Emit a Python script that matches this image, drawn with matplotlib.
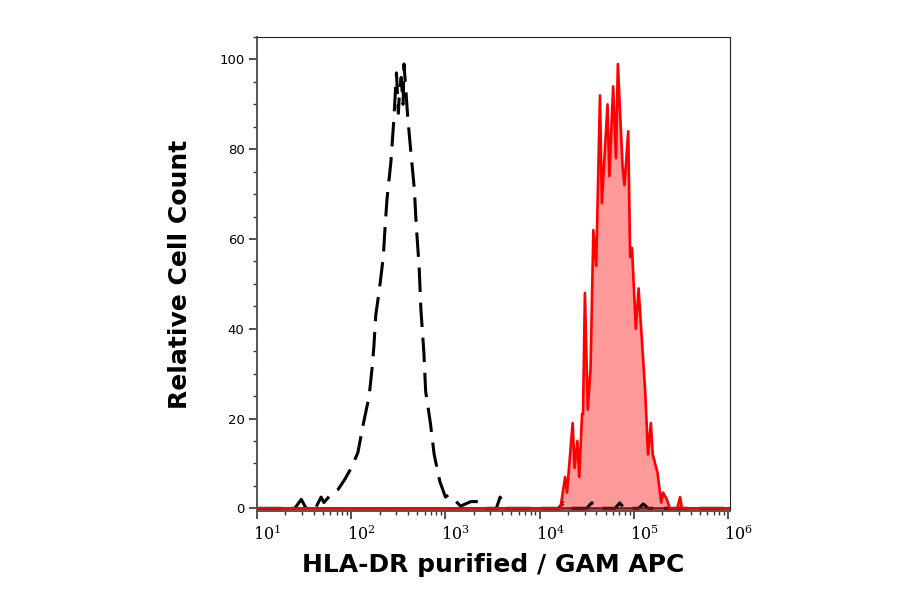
#/usr/bin/env python3
# coding: utf8

import numpy as np
from matplotlib import pyplot as plt
from matplotlib import ticker
from matplotlib import transforms

# isotype control (black dashed) : log10 of intensity, relative count
ctrl_log = [1.00, 1.40, 1.47, 1.52, 1.62, 1.68, 1.71, 1.78, 1.86, 1.93, 2.00, 2.07,
            2.13, 2.19, 2.22, 2.24, 2.26, 2.30, 2.34, 2.36, 2.38, 2.42, 2.45,
            2.48, 2.50, 2.51, 2.53, 2.55, 2.56, 2.58, 2.60, 2.63, 2.67, 2.69,
            2.72, 2.74, 2.77, 2.79, 2.84, 2.88, 2.94, 3.00, 3.03, 3.09, 3.16,
            3.27, 3.35, 3.43, 3.54, 3.58, 3.64, 4.20, 4.25, 4.30, 4.50, 4.55,
            4.60, 4.65, 4.80, 4.85, 4.90, 5.05, 5.10, 5.15, 6.02]
ctrl_cnt = [0, 0, 2.0, 0, 0, 2.5, 1.3, 3.0, 4.2, 6.4, 9.0, 12.4,
            19, 25, 31, 36, 43, 49, 56, 63, 69, 77, 86,
            97, 88, 92, 96, 90, 99, 93, 87, 80, 71, 63,
            54, 44, 35, 26, 19, 12, 6, 2.5, 3, 2, 0.5,
            1.5, 1.5, 0, 0, 2.5, 0, 0, 1.2, 0, 0, 1.2,
            1.0, 0, 0, 1.2, 0, 0, 1.0, 0, 0]

# HLA-DR stained (red filled)
hla_log = [1.00, 4.20, 4.22, 4.27, 4.29, 4.35, 4.37, 4.40, 4.42, 4.45, 4.46, 4.48,
           4.51, 4.54, 4.57, 4.60, 4.64, 4.66, 4.72, 4.74, 4.78, 4.81, 4.83,
           4.88, 4.90, 4.94, 4.96, 4.98, 5.02, 5.05, 5.12, 5.15, 5.18, 5.20,
           5.25, 5.29, 5.31, 5.35, 5.38, 5.46, 5.49, 5.51, 6.02]
hla_cnt = [0, 0, 0, 7, 3.5, 19, 9, 15, 7, 21, 21, 48,
           22, 31, 62, 54, 92, 68, 90, 74, 94, 78, 99,
           76, 72, 84, 56, 58, 40, 49, 26, 12, 19, 12,
           8, 1.3, 3.5, 2, 0, 0, 2.5, 0, 0]

ctrl_x = np.power(10.0, ctrl_log)
hla_x = np.power(10.0, hla_log)

fig = plt.figure(figsize=(9, 5.94), dpi=100)
ax = fig.add_axes([0.2856, 0.1397, 0.8111 - 0.2856, 0.9377 - 0.1397])

ax.fill_between(hla_x, 0, hla_cnt, color='#ff9a9a', linewidth=0, zorder=1)
ax.plot(ctrl_x, ctrl_cnt, color='black', linewidth=2.2, dashes=(8, 3.5), zorder=2)
ax.axhline(0, color='#8b0a0a', linewidth=1.8, zorder=3)
ax.plot(hla_x, hla_cnt, color='#ff0000', linewidth=1.9, zorder=4)

ax.set_xscale('log')
ax.set_xlim(10 ** 1.0, 10 ** 6.02)
ax.set_ylim(-0.6, 105)

ax.yaxis.set_major_locator(ticker.MultipleLocator(20))
ax.yaxis.set_minor_locator(ticker.MultipleLocator(5))
ax.xaxis.set_major_locator(ticker.LogLocator(base=10, numticks=10))
ax.xaxis.set_minor_locator(ticker.LogLocator(base=10, subs=np.arange(2, 10), numticks=20))
ax.xaxis.set_minor_formatter(ticker.NullFormatter())

ax.tick_params(axis='both', which='major', direction='out', length=6, width=1.2, color='#333333')
ax.tick_params(axis='both', which='minor', direction='out', length=3, width=1.0, color='#333333')
ax.tick_params(axis='y', labelsize=9.5, pad=3)
ax.tick_params(axis='x', labelsize=11.5, pad=4)

shift = transforms.ScaledTranslation(-4 / 100, 0, fig.dpi_scale_trans)
for i, lab in enumerate(ax.get_xticklabels()):
    lab.set_fontfamily('DejaVu Serif')
    lab.set_horizontalalignment('left')
    if i == 0:
        lab.set_transform(lab.get_transform() + transforms.ScaledTranslation(4 / 100, 0, fig.dpi_scale_trans))
    else:
        lab.set_transform(lab.get_transform() + shift)
for lab in ax.get_yticklabels():
    lab.set_fontfamily('DejaVu Sans')

for side in ['left', 'bottom']:
    ax.spines[side].set_color('#555555')
    ax.spines[side].set_linewidth(1.4)
for side in ['top', 'right']:
    ax.spines[side].set_color('#222222')
    ax.spines[side].set_linewidth(0.8)

ax.set_ylabel("Relative Cell Count", fontsize=18, fontweight='bold', labelpad=20)
ax.set_xlabel("HLA-DR purified / GAM APC", fontsize=18, fontweight='bold', labelpad=6)

fig.savefig('out.png', dpi=100)
